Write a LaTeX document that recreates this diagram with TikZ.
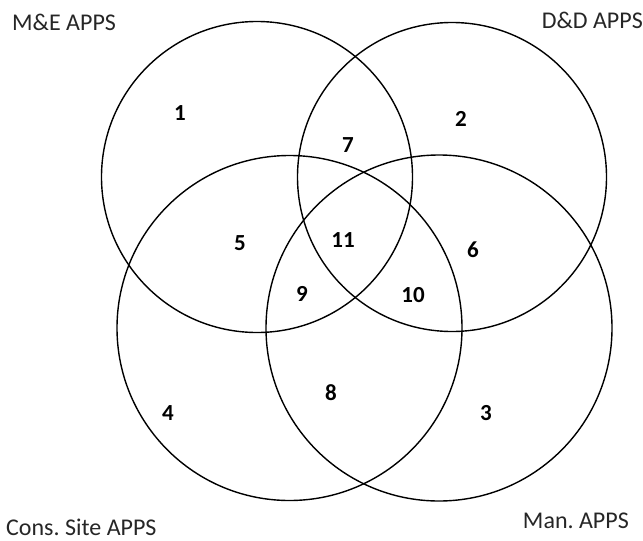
\documentclass[tikz,border=0pt]{standalone}
\usepackage{fontspec}
\setmainfont{Carlito}
\frenchspacing
\begin{document}
\begin{tikzpicture}[x=1pt,y=-1pt,
  ring/.style={draw=black,line width=1.4pt},
  setlabel/.style={font=\fontsize{24}{28}\selectfont,text=black!85,inner sep=0pt},
  num/.style={font=\fontsize{23}{26}\selectfont\bfseries,inner sep=0pt}]
\useasboundingbox (0,0) rectangle (643,541);
\draw[ring] (257,177) circle (155.5);
\draw[ring] (452,177) circle (154.5);
\draw[ring] (289.5,328) circle (172.5);
\draw[ring] (439,328) circle (173);
\node[setlabel,anchor=west] (me) at (12,22) {M\&E APPS};
\node[setlabel,anchor=east] (dd) at (643,20) {D\&D APPS};
\node[setlabel,anchor=west] (cs) at (6,527) {Cons. Site APPS};
\node[setlabel,anchor=east] (man) at (629,521) {Man. APPS};
\node[num] (n1) at (180,113) {1};
\node[num] (n2) at (461,119) {2};
\node[num] (n3) at (486,413) {3};
\node[num] (n4) at (168,413) {4};
\node[num] (n5) at (240,243) {5};
\node[num] (n6) at (473,250) {6};
\node[num] (n7) at (348,145) {7};
\node[num] (n8) at (331,393) {8};
\node[num] (n9) at (302,294) {9};
\node[num] (n10) at (413,295) {10};
\node[num] (n11) at (343,240) {11};
\end{tikzpicture}
\end{document}
